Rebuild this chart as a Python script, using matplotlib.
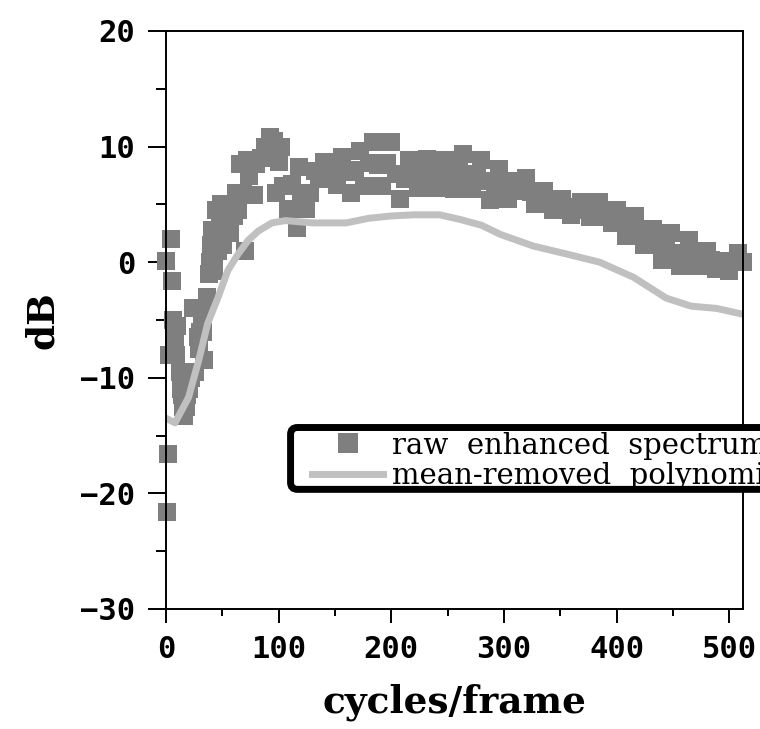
import matplotlib
matplotlib.use("Agg")
import matplotlib.pyplot as plt
from matplotlib.patches import FancyBboxPatch
from matplotlib.ticker import MultipleLocator

# raw enhanced spectrum (square markers)
raw_x = [0, 1, 2, 3, 4, 5, 6, 7, 8, 9, 10, 12, 13, 14, 15, 16, 18, 19, 20, 22,
         24, 26, 28, 29, 30, 31, 32, 33, 34, 36, 38, 39, 40, 41, 42, 43, 44, 46, 47, 48,
         49, 50, 51, 52, 53, 54, 56, 57, 58, 60, 62, 64, 66, 68, 70, 72, 74, 76, 78, 80,
         84, 88, 92, 96, 98, 100, 102, 104, 108, 112, 116, 118, 120, 124, 128, 132, 136, 140, 144, 148,
         152, 156, 160, 164, 168, 172, 176, 180, 184, 188, 192, 196, 200, 204, 208, 212, 216, 220, 224, 228,
         232, 236, 240, 244, 248, 252, 256, 260, 264, 268, 272, 276, 280, 284, 288, 292, 296, 300, 304, 308,
         312, 316, 320, 324, 328, 332, 336, 340, 344, 348, 352, 356, 360, 364, 368, 372, 376, 380, 384, 388,
         392, 396, 400, 404, 408, 412, 416, 420, 424, 428, 432, 436, 440, 444, 448, 452, 456, 460, 464, 468,
         472, 476, 480, 484, 488, 492, 496, 500, 504, 508, 512]
raw_db = [0.1, -21.6, -16.6, -8.0, 2.0, -1.6, -5.0, -6.5, -7.0, -8.0, -5.5, -9.5, -11.0, -11.5, -12.5, -13.3, -12.5, -11.5, -11.0, -10.0,
          -4.0, -9.5, -6.5, -7.5, -6.0, -4.0, -4.5, -6.0, -8.5, -3.0, -1.0, 0.0, 1.5, 2.8, -0.8, -0.5, 4.5, 1.0, 2.0, 3.5,
          5.0, 4.8, 1.5, 2.5, 4.0, 5.0, 3.5, 2.5, 4.8, 4.0, 6.0, 4.5, 8.5, 6.0, 1.0, 8.8, 7.5, 8.8, 5.8, 8.5,
          9.0, 10.0, 10.8, 10.5, 6.0, 8.7, 10.0, 6.6, 4.6, 6.8, 3.0, 8.2, 6.0, 4.6, 6.0, 7.9, 7.2, 8.7, 7.5, 8.7,
          6.7, 9.1, 7.8, 6.0, 8.0, 9.6, 6.6, 8.6, 10.4, 8.4, 6.6, 8.6, 10.4, 7.6, 5.5, 7.2, 8.8, 7.6, 6.4, 7.6,
          8.9, 7.6, 6.4, 7.5, 8.8, 7.5, 6.3, 8.0, 9.4, 7.6, 6.3, 7.6, 8.8, 7.0, 5.4, 6.8, 8.1, 6.8, 5.5, 6.3,
          7.0, 6.2, 7.3, 6.1, 5.0, 5.4, 6.2, 5.3, 4.5, 5.4, 5.5, 4.8, 4.1, 4.6, 5.2, 4.5, 3.9, 4.5, 5.2, 4.5,
          3.9, 3.4, 4.5, 3.4, 2.3, 2.9, 4.0, 2.9, 1.5, 2.2, 2.9, 1.5, 0.2, 1.3, 2.5, 0.8, -0.3, 0.8, 1.9, 0.8,
          -0.3, 0.4, 1.0, 0.2, -0.6, -0.3, 0.1, -0.8, 0.0, 0.8, 0.0]

# mean-removed polynomial fit
fit_x = [0, 8, 20, 29, 37, 46, 55, 64, 73, 82, 94, 106, 130, 160, 180, 200, 220, 243,
         261, 280, 297, 326, 356, 385, 415, 444, 466, 489, 512]
fit_db = [-13.5, -13.9, -11.7, -8.5, -5.3, -3.1, -0.7, 0.7, 1.9, 2.7, 3.4, 3.6, 3.4, 3.4, 3.8, 4.0, 4.1, 4.1,
          3.7, 3.2, 2.4, 1.4, 0.7, 0.0, -1.3, -3.1, -3.8, -4.0, -4.5]

labels = ["raw  enhanced  spectrum", "mean-removed  polynomial  fit"]

fig = plt.figure(figsize=(7.6, 7.29), dpi=100)
ax = fig.add_axes([166 / 760, 1 - 609 / 729, (742.7 - 166) / 760, 578 / 729])

ax.plot(raw_x, raw_db, 's', ms=13, mew=0, color='#7f7f7f', clip_on=False, label=labels[0])
ax.plot(fit_x, fit_db, '-', lw=5, color='#c0c0c0', label=labels[1])

ax.set_xlim(0, 512)
ax.set_ylim(-30, 20)
ax.xaxis.set_major_locator(MultipleLocator(100))
ax.xaxis.set_minor_locator(MultipleLocator(50))
ax.yaxis.set_major_locator(MultipleLocator(10))
ax.yaxis.set_minor_locator(MultipleLocator(5))

for s in ax.spines.values():
    s.set_linewidth(1.4)
ax.tick_params(axis='y', which='major', length=13, width=1.4, pad=9)
ax.tick_params(axis='y', which='minor', length=7, width=1.4)
ax.tick_params(axis='x', which='major', length=10, width=1.4, pad=9)
ax.tick_params(axis='x', which='minor', length=5, width=1.4)
for lab in ax.get_xticklabels() + ax.get_yticklabels():
    lab.set_family('DejaVu Sans Mono')
    lab.set_weight('bold')
    lab.set_fontsize(22)

ax.set_xlabel("cycles/frame", family='DejaVu Serif', weight='bold', fontsize=27, labelpad=14)
ax.set_ylabel("dB", family='DejaVu Serif', weight='bold', fontsize=27, labelpad=14)

# legend box runs off the right edge of the figure, as in the original
box = FancyBboxPatch((0.216, 0.207), 1.0, 0.107, boxstyle='round,pad=0,rounding_size=0.012',
                     transform=ax.transAxes, lw=5, ec='black', fc='white',
                     clip_on=False, zorder=4)
ax.add_patch(box)
leg = ax.legend(loc='upper left', bbox_to_anchor=(0.253, 0.307), borderaxespad=0,
                prop={'family': 'DejaVu Serif', 'size': 21}, numpoints=1,
                markerscale=1.15, handlelength=2.45, handletextpad=0.3,
                labelspacing=0.08, borderpad=0, frameon=False)
leg.set_zorder(5)

fig.savefig('out.png', dpi=100)
